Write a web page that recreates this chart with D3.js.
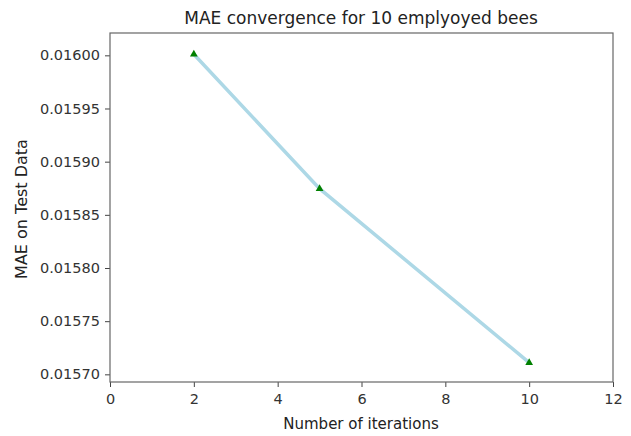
<!DOCTYPE html>
<html>
<head>
<meta charset="utf-8">
<script src="https://cdn.jsdelivr.net/npm/d3@7"></script>
<style>
  body { margin: 0; background: #fff; }
  svg { font-family: "DejaVu Sans", sans-serif; }
</style>
</head>
<body>
<svg width="631" height="436"></svg>
<script>
const iterations = [2, 5, 10];
const mae = [0.016001, 0.0158746, 0.015711];
const xTicks = [0, 2, 4, 6, 8, 10, 12];
const yTicks = [0.01570, 0.01575, 0.01580, 0.01585, 0.01590, 0.01595, 0.01600];

const svg = d3.select("svg");
const margin = { top: 33, right: 18, bottom: 54, left: 110 };
const width = +svg.attr("width");
const height = +svg.attr("height");
const innerWidth = width - margin.left - margin.right;
const innerHeight = height - margin.top - margin.bottom;

const data = iterations.map((d, i) => ({ x: d, y: mae[i] }));

const g = svg.append("g").attr("transform", `translate(${margin.left},${margin.top})`);

const x = d3.scaleLinear().domain([0, 12]).range([0, innerWidth]);
const y = d3.scaleLinear().domain([0.0156928, 0.016021]).range([innerHeight, 0]);

const xAxis = g.append("g")
  .attr("transform", `translate(0,${innerHeight})`)
  .call(d3.axisBottom(x).tickValues(xTicks).tickSize(5).tickPadding(7));
const yAxis = g.append("g")
  .call(d3.axisLeft(y).tickValues(yTicks).tickSize(5).tickPadding(5).tickFormat(d3.format(".5f")));

[xAxis, yAxis].forEach(a => {
  a.select(".domain").remove();
  a.selectAll("text").attr("font-size", 14.5).attr("fill", "#333").attr("font-family", "DejaVu Sans, sans-serif");
  a.selectAll("line").attr("stroke", "#444");
});

// frame
g.append("rect")
  .attr("width", innerWidth)
  .attr("height", innerHeight)
  .attr("fill", "none")
  .attr("stroke", "#666")
  .attr("stroke-width", 1.2);

g.append("path")
  .datum(data)
  .attr("fill", "none")
  .attr("stroke", "#add8e6")
  .attr("stroke-width", 3.5)
  .attr("d", d3.line().x(d => x(d.x)).y(d => y(d.y)));

g.selectAll("path.marker")
  .data(data)
  .enter()
  .append("path")
  .attr("class", "marker")
  .attr("transform", d => `translate(${x(d.x)},${y(d.y)})`)
  .attr("d", d3.symbol().type(d3.symbolTriangle).size(26))
  .attr("fill", "#008000");

svg.append("text")
  .attr("x", 361)
  .attr("y", 24)
  .attr("text-anchor", "middle")
  .attr("font-size", 17)
  .attr("fill", "#222")
  .text("MAE convergence for 10 emplyoyed bees");

svg.append("text")
  .attr("x", 361)
  .attr("y", 429)
  .attr("text-anchor", "middle")
  .attr("font-size", 15)
  .attr("fill", "#222")
  .text("Number of iterations");

svg.append("text")
  .attr("transform", `translate(27,209) rotate(-90)`)
  .attr("text-anchor", "middle")
  .attr("font-size", 16)
  .attr("fill", "#222")
  .text("MAE on Test Data");
</script>
</body>
</html>
